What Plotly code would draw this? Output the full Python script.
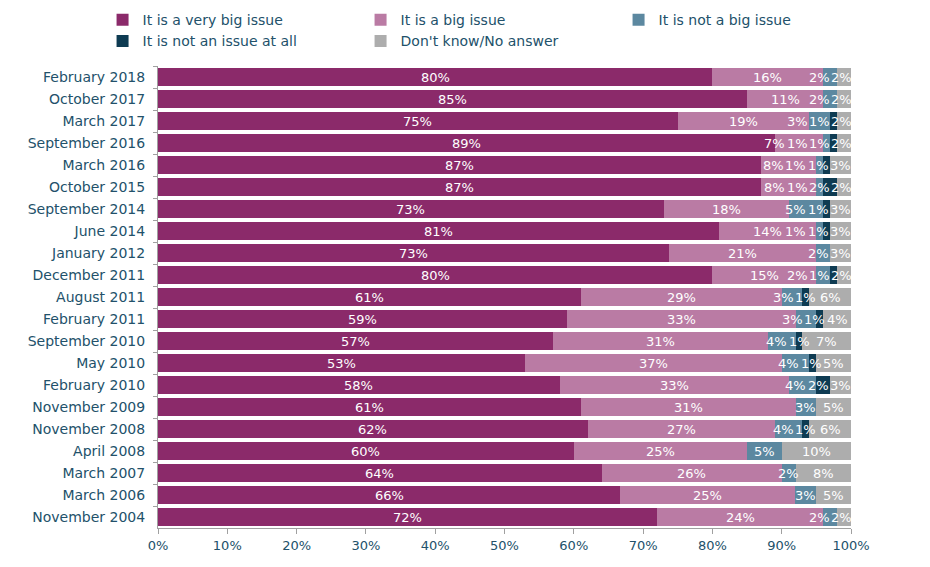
import plotly.graph_objects as go

dates = ["February 2018", "October 2017", "March 2017", "September 2016", "March 2016",
         "October 2015", "September 2014", "June 2014", "January 2012", "December 2011",
         "August 2011", "February 2011", "September 2010", "May 2010", "February 2010",
         "November 2009", "November 2008", "April 2008", "March 2007", "March 2006",
         "November 2004"]

very_big = [80, 85, 75, 89, 87, 87, 73, 81, 73, 80, 61, 59, 57, 53, 58, 61, 62, 60, 64, 66, 72]
big      = [16, 11, 19, 7, 8, 8, 18, 14, 21, 15, 29, 33, 31, 37, 33, 31, 27, 25, 26, 25, 24]
not_big  = [2, 2, 3, 1, 1, 1, 5, 1, 2, 2, 3, 3, 4, 4, 4, 3, 4, 5, 2, 3, 2]
not_at_all = [0, 0, 1, 1, 1, 2, 1, 1, 0, 1, 1, 1, 1, 1, 2, 0, 1, 0, 0, 0, 0]
dont_know = [2, 2, 2, 2, 3, 2, 3, 3, 3, 2, 6, 4, 7, 5, 3, 5, 6, 10, 8, 5, 2]

x_ticks = list(range(0, 101, 10))
x_tick_labels = [f"{t}%" for t in x_ticks]

series = [
    ("It is a very big issue", very_big, "#8B2A6A"),
    ("It is a big issue", big, "#BA7BA4"),
    ("It is not a big issue", not_big, "#5C88A0"),
    ("It is not an issue at all", not_at_all, "#0E3B52"),
    ("Don't know/No answer", dont_know, "#ADADAD"),
]

axis_color = "#22516A"
font_family = "DejaVu Sans"
label_size = 13

fig = go.Figure()
for name, vals, color in series:
    fig.add_trace(go.Bar(
        y=dates, x=vals, name=name, orientation="h",
        marker=dict(color=color, line=dict(width=0)),
        customdata=vals,
        hovertemplate="%{y}: %{customdata}%<extra>" + name + "</extra>",
    ))

# value labels: centred on each segment, packed from the right so tiny
# neighbouring segments don't overprint each other (as in the original)
plot_px = 930 - 158 - 79
def text_width_pct(s):
    w = 0.0
    for ch in s:
        w += 0.95 if ch == "%" else 0.636
    return w * label_size / plot_px * 100 + 0.25

annotations = []
for r, d in enumerate(dates):
    vals = [s[1][r] for s in series]
    total = sum(vals)
    items = []
    cum = 0.0
    for v in vals:
        if v > 0:
            start = cum / total * 100
            end = (cum + v) / total * 100
            txt = f"{v}%"
            items.append([txt, (start + end) / 2, text_width_pct(txt)])
        cum += v
    limit = 100.3
    for it in reversed(items):
        c = min(it[1], limit - it[2] / 2)
        it[1] = c
        limit = c - it[2] / 2
    for txt, c, w in items:
        annotations.append(dict(
            x=c, y=d, xref="x", yref="y", text=txt, showarrow=False,
            xanchor="center", yanchor="middle",
            font=dict(color="white", size=label_size, family=font_family),
        ))

fig.update_layout(
    barmode="stack",
    barnorm="percent",
    bargap=0.22,
    width=930, height=567,
    margin=dict(l=158, r=79, t=66, b=39, autoexpand=False),
    paper_bgcolor="white", plot_bgcolor="white",
    font=dict(family=font_family, color=axis_color, size=13),
    annotations=annotations,
    legend=dict(
        orientation="h",
        xref="paper", yref="paper",
        x=-0.08, xanchor="left", y=1.134, yanchor="top",
        entrywidth=213, entrywidthmode="pixels",
        traceorder="normal", itemwidth=30,
        font=dict(size=14, color=axis_color, family=font_family),
        tracegroupgap=0,
    ),
    showlegend=True,
)

fig.update_xaxes(
    range=[0, 100], tickvals=x_ticks, ticktext=x_tick_labels,
    showgrid=False, zeroline=False,
    showline=True, linecolor="#A0A0A0", linewidth=1,
    ticks="outside", ticklen=5, tickcolor="#A0A0A0",
    tickfont=dict(size=13, color=axis_color),
)
fig.update_yaxes(
    autorange="reversed", showgrid=False,
    showline=True, linecolor="#A0A0A0", linewidth=1,
    ticks="outside", ticklen=4, tickcolor="#A0A0A0", tickson="boundaries",
    ticklabelstandoff=9,
    tickfont=dict(size=14, color=axis_color),
)

fig.write_html("out.html")
